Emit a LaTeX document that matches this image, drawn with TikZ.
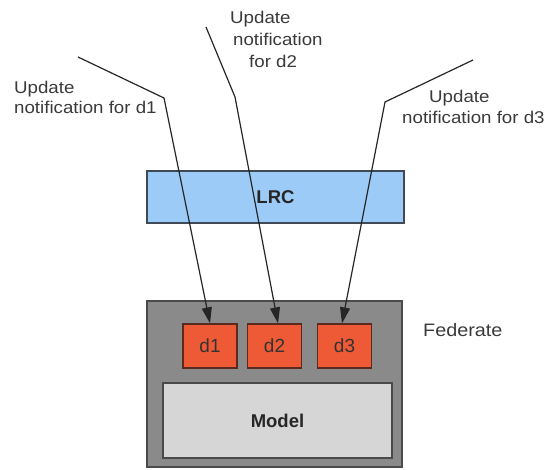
\documentclass[tikz,border=0pt]{standalone}
\usepackage{fontspec}
\setmainfont{Liberation Sans}
\newfontfamily\labfont[FakeStretch=1.1]{Liberation Sans}
\usetikzlibrary{arrows.meta,calc}

\definecolor{lrcblue}{HTML}{9DCBF7}
\definecolor{lrcedge}{HTML}{3F4A56}
\definecolor{fedgray}{HTML}{8A8A8A}
\definecolor{fededge}{HTML}{4A4A4A}
\definecolor{dataorange}{HTML}{EE5A36}
\definecolor{dataedge}{HTML}{5A2A1E}
\definecolor{modelgray}{HTML}{D6D6D6}
\definecolor{labgray}{HTML}{3A3A3A}

\tikzset{
  box/.style={draw, rectangle, inner sep=0pt, line width=1.3pt,
              font=\fontsize{18.5}{20}\selectfont\bfseries, text=black!85},
  lrcbox/.style={box, fill=lrcblue, draw=lrcedge},
  fedbox/.style={box, fill=fedgray, draw=fededge, line width=1.6pt},
  databox/.style={box, fill=dataorange, draw=dataedge,
                  font=\fontsize{19}{20}\selectfont, text=black!80,
                  minimum width=54pt, minimum height=44pt},
  modelbox/.style={box, fill=modelgray, draw=fededge},
  note/.style={inner sep=0pt, align=left, text=labgray,
               font=\labfont\fontsize{17}{20}\selectfont},
  notify/.style={draw=black!85, line width=1.2pt,
                 -{Triangle[length=16pt,width=10pt]}},
}

\begin{document}
\begin{tikzpicture}[x=1pt, y=-1pt]
  \useasboundingbox (0,0) rectangle (553,469);

  % federate container and its contents
  \node[fedbox, minimum width=255pt, minimum height=166pt] (fed) at (274.5,384) {};
  \node[databox] (d1) at (210,346) {d1};
  \node[databox] (d2) at (274.5,346) {d2};
  \node[databox] (d3) at (344.5,346) {d3};
  \node[modelbox, minimum width=229pt, minimum height=75pt] (model) at (277.5,420.5) {Model};
  \node[note, anchor=base west, font=\labfont\fontsize{18}{20}\selectfont] (fedlabel) at (423,336.5) {Federate};

  % local runtime component
  \node[lrcbox, minimum width=257pt, minimum height=52pt] (lrc) at (275.5,197) {LRC};

  % notification labels (anchored at the baseline of their last line)
  \node[note, anchor=base west] (n1) at (14,113) {Update\\notification for d1};
  \node[note, anchor=base west, font=\labfont\fontsize{17}{22}\selectfont] (n2) at (230,67)
    {Update\\\hspace*{3pt}notification\\\hspace*{19pt}for d2};
  \node[note, anchor=base west, font=\labfont\fontsize{17}{21}\selectfont] (n3) at (402,123)
    {\hspace*{27pt}Update\\notification for d3};

  % notification paths
  \coordinate (s1) at (78,57);   \coordinate (b1) at (164,98);
  \coordinate (s2) at (206,27);  \coordinate (b2) at (235,97);
  \coordinate (s3) at (473,60);  \coordinate (b3) at (385,102);

  \draw[notify] (s1) -- (b1) -- (d1.north);
  \draw[notify] (s2) -- (b2) -- ([xshift=3.5pt]d2.north);
  \draw[notify] (s3) -- (b3) -- ([xshift=-2.5pt]d3.north);
\end{tikzpicture}
\end{document}
